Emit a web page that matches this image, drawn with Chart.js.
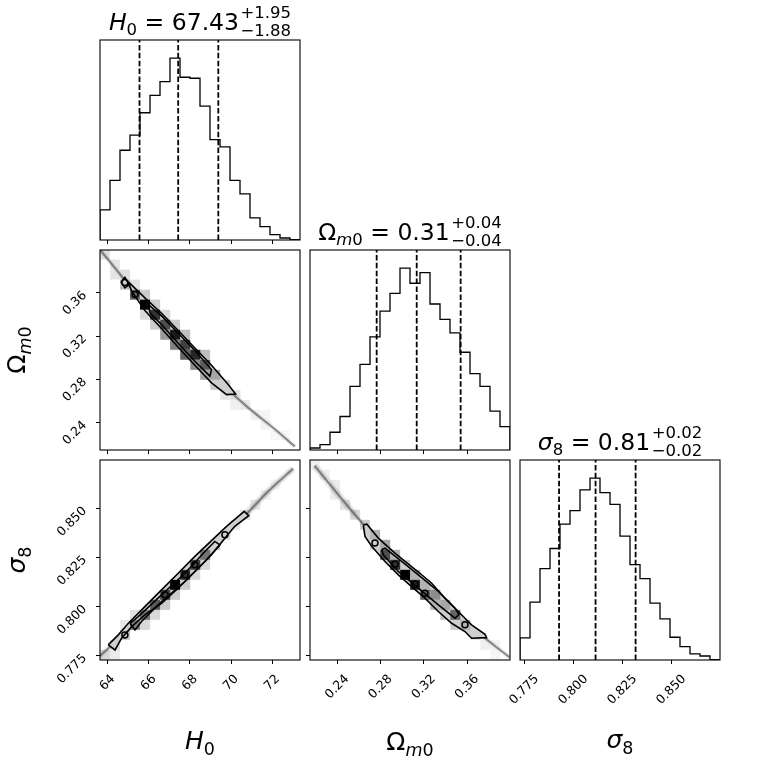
<!DOCTYPE html>
<html><head><meta charset="utf-8">
<script src="https://cdn.jsdelivr.net/npm/chart.js@4.4.1/dist/chart.umd.min.js"></script>
<style>
html,body{margin:0;padding:0;background:#fff;}
#wrap{position:relative;width:760px;height:760px;overflow:hidden;background:#fff;}
#wrap canvas{position:absolute;left:0;top:0;}
</style></head><body><div id="wrap"></div>
<script>
// ---------------- data ----------------
const H0_RANGE = [63.63, 73.35];
const OM_RANGE = [0.2148, 0.3996];
const S8_RANGE = [0.7728, 0.8747];

const H0_EDGES = [63.630,64.116,64.602,65.088,65.574,66.060,66.546,67.032,67.518,68.004,68.490,68.976,69.462,69.948,70.434,70.920,71.406,71.892,72.378,72.864,73.350];
const H0_COUNTS = [90,178,268,313,380,432,473,543,486,483,400,300,278,178,138,66,40,16,6,1];
const OM_EDGES = [0.21480,0.22404,0.23328,0.24252,0.25176,0.26100,0.27024,0.27948,0.28872,0.29796,0.30720,0.31644,0.32568,0.33492,0.34416,0.35340,0.36264,0.37188,0.38112,0.39036,0.39960];
const OM_COUNTS = [6,16,53,100,190,256,338,415,468,543,498,530,436,390,350,292,228,190,116,70];
const S8_EDGES = [0.77280,0.77790,0.78299,0.78809,0.79318,0.79828,0.80337,0.80847,0.81356,0.81866,0.82375,0.82885,0.83394,0.83904,0.84413,0.84923,0.85432,0.85942,0.86451,0.86961,0.87470];
const S8_COUNTS = [66,173,273,333,406,446,508,543,500,465,370,285,243,170,123,68,40,18,12,1];

const H0_Q = [65.55, 67.43, 69.38];
const OM_Q = [0.2764, 0.3134, 0.3540];
const S8_Q = [0.7927, 0.8113, 0.8317];

const H0_TITLE = ['67.43', '+1.95', '\u22121.88'];
const OM_TITLE = ['0.31', '+0.04', '\u22120.04'];
const S8_TITLE = ['0.81', '+0.02', '\u22120.02'];

const H0_TICKS = [64, 66, 68, 70, 72];
const H0_LABELS = ['64', '66', '68', '70', '72'];
const OM_TICKS = [0.24, 0.28, 0.32, 0.36];
const OM_LABELS = ['0.24', '0.28', '0.32', '0.36'];
const S8_TICKS = [0.775, 0.800, 0.825, 0.850];
const S8_LABELS = ['0.775', '0.800', '0.825', '0.850'];

// panel A: H0 (x) vs Omega_m0 (y)
const CELLS_A = [[63.87,0.3954,0.12],[64.36,0.3861,0.10],[64.36,0.3769,0.10],[64.85,0.3769,0.12],[64.85,0.3676,0.25],[65.33,0.3676,0.12],[65.33,0.3583,0.60],[65.82,0.3583,0.20],[65.82,0.3491,1.0],[65.82,0.3398,0.15],[66.31,0.3491,0.20],[66.31,0.3398,0.80],[66.31,0.3306,0.20],[66.80,0.3398,0.15],[66.80,0.3306,0.70],[66.80,0.3213,0.40],[67.28,0.3306,0.20],[67.28,0.3213,0.90],[67.28,0.3120,0.50],[67.77,0.3213,0.25],[67.77,0.3120,0.75],[67.77,0.3028,0.60],[68.26,0.3028,0.85],[68.26,0.2935,0.45],[68.74,0.3028,0.25],[68.74,0.2935,0.65],[68.74,0.2843,0.35],[69.23,0.2843,0.35],[69.23,0.2750,0.20],[69.72,0.2750,0.18],[69.72,0.2657,0.10],[70.21,0.2657,0.12],[70.21,0.2565,0.06],[70.69,0.2565,0.08],[71.18,0.2472,0.06],[71.67,0.2472,0.04],[71.67,0.2380,0.05],[72.15,0.2287,0.03],[72.64,0.2287,0.03]];
const BAND_A = [[63.62,0.4000],[64.36,0.383],[65.81,0.349],[67.03,0.326],[68.24,0.300],[69.54,0.276],[70.83,0.254],[72.13,0.234],[73.10,0.218]];
const OUTER_A = [[65.01,0.3701],[65.81,0.3553],[66.62,0.3412],[67.43,0.3252],[68.24,0.3091],[69.05,0.2931],[69.86,0.2753],[70.22,0.2666],[69.78,0.2660],[69.05,0.2768],[68.24,0.2931],[67.43,0.3098],[66.62,0.3270],[65.81,0.3436],[65.17,0.3615]];
const DIAMOND_A = [[64.65,0.3701],[64.84,0.3744],[65.04,0.3677],[64.84,0.3646]];
const INNER_A = [[65.98,0.3492],[66.62,0.3387],[67.43,0.3227],[68.24,0.3067],[69.05,0.2891],[68.97,0.2830],[68.24,0.2968],[67.43,0.3134],[66.62,0.3307],[66.06,0.3415]];
const LOOPS_A = [[65.33,0.3584],[64.84,0.3695]];

// panel B: H0 (x) vs sigma_8 (y)
const CELLS_B = [[63.87,0.7754,0.15],[64.36,0.7754,0.08],[64.36,0.7805,0.12],[64.85,0.7856,0.20],[64.85,0.7907,0.10],[65.33,0.7907,0.50],[65.33,0.7958,0.12],[65.82,0.7958,0.55],[65.82,0.7907,0.15],[66.31,0.8009,0.65],[66.31,0.7958,0.15],[66.80,0.8060,0.75],[66.80,0.8009,0.20],[67.28,0.8111,1.0],[67.28,0.8060,0.20],[67.77,0.8162,0.80],[67.77,0.8111,0.20],[68.26,0.8213,0.75],[68.26,0.8162,0.15],[68.74,0.8264,0.55],[68.74,0.8213,0.15],[69.23,0.8315,0.25],[69.72,0.8366,0.15],[70.21,0.8417,0.10],[70.69,0.8468,0.12],[71.18,0.8519,0.10],[71.67,0.8570,0.06],[72.15,0.8621,0.04]];
const BAND_B = [[63.62,0.7748],[65.01,0.7881],[67.27,0.8114],[69.54,0.8349],[70.75,0.8472],[71.80,0.8587],[73.02,0.8703]];
const CLOUD_B = [[70.60,0.8460],[71.80,0.8587],[73.02,0.8703]];
const OUTER_B = [[64.03,0.7805],[64.52,0.7856],[65.01,0.7915],[65.81,0.8000],[66.62,0.8085],[67.43,0.8170],[68.24,0.8256],[69.05,0.8336],[69.78,0.8409],[70.64,0.8485],[70.86,0.8463],[70.18,0.8409],[69.78,0.8358],[69.05,0.8264],[68.24,0.8179],[67.43,0.8094],[66.62,0.8017],[65.81,0.7958],[65.17,0.7898],[64.68,0.7839],[64.36,0.7779]];
const INNER_B = [[65.09,0.7915],[65.49,0.7949],[66.62,0.8060],[67.76,0.8170],[68.73,0.8281],[69.21,0.8332],[69.46,0.8315],[68.73,0.8230],[67.76,0.8128],[66.62,0.8026],[65.65,0.7924],[65.33,0.7881]];
const LOOPS_B = [[64.84,0.7856],[69.70,0.8366],[66.79,0.8060],[67.76,0.8162],[68.24,0.8213]];

// panel C: Omega_m0 (x) vs sigma_8 (y)
const CELLS_C = [[0.2194,0.8723,0.05],[0.2287,0.8672,0.06],[0.2380,0.8621,0.08],[0.2380,0.8570,0.08],[0.2472,0.8519,0.12],[0.2565,0.8468,0.15],[0.2657,0.8417,0.20],[0.2750,0.8366,0.30],[0.2750,0.8315,0.20],[0.2843,0.8315,0.35],[0.2843,0.8264,0.70],[0.2935,0.8264,0.30],[0.2935,0.8213,0.80],[0.3028,0.8213,0.20],[0.3028,0.8162,1.0],[0.3120,0.8162,0.30],[0.3120,0.8111,0.85],[0.3213,0.8111,0.30],[0.3213,0.8060,0.60],[0.3306,0.8060,0.45],[0.3306,0.8009,0.30],[0.3398,0.8009,0.35],[0.3398,0.7958,0.25],[0.3491,0.7958,0.60],[0.3491,0.7907,0.20],[0.3583,0.7907,0.30],[0.3676,0.7856,0.12],[0.3769,0.7805,0.06],[0.3861,0.7805,0.05],[0.3861,0.7754,0.04]];
const BAND_C = [[0.2190,0.8718],[0.2564,0.8468],[0.3026,0.8179],[0.3488,0.7961],[0.3765,0.7839],[0.3990,0.7742]];
const CLOUD_C = [[0.2190,0.8718],[0.2564,0.8468]];
const OUTER_C = [[0.2641,0.8414],[0.2672,0.8421],[0.2779,0.8349],[0.2933,0.8273],[0.3026,0.8230],[0.3164,0.8170],[0.3272,0.8119],[0.3395,0.8043],[0.3518,0.7975],[0.3641,0.7907],[0.3765,0.7859],[0.3780,0.7842],[0.3641,0.7839],[0.3580,0.7873],[0.3457,0.7915],[0.3334,0.7975],[0.3210,0.8043],[0.3087,0.8102],[0.2964,0.8162],[0.2841,0.8230],[0.2718,0.8307],[0.2656,0.8358]];
const INNER_C = [[0.2810,0.8290],[0.2841,0.8298],[0.2995,0.8230],[0.3149,0.8162],[0.3334,0.8077],[0.3488,0.7992],[0.3524,0.7961],[0.3488,0.7941],[0.3334,0.8009],[0.3149,0.8094],[0.2964,0.8179],[0.2825,0.8264]];
const LOOPS_C = [[0.2748,0.8324],[0.2933,0.8216],[0.3118,0.8114],[0.3210,0.8068],[0.3580,0.7907]];

// ---------------- helpers ----------------
const F = "'DejaVu Sans', sans-serif";
const TICK_FS = 12.5;
const TM = `23.5px ${F}`, TI = `italic 23.5px ${F}`, TS = `16.5px ${F}`, TSI = `italic 16.5px ${F}`;
const LM = `25px ${F}`, LI = `italic 25px ${F}`, LS = `17.5px ${F}`, LSI = `italic 17.5px ${F}`;

function shade(s) { const g = Math.round(255 * (1 - s)); return `rgb(${g},${g},${g})`; }
const pts = arr => arr.map(p => ({x: p[0], y: p[1]}));
const closed = arr => pts(arr.concat([arr[0]]));

function drawRich(ctx, parts, cx, by, rot) {
  ctx.save();
  ctx.translate(cx, by);
  if (rot) ctx.rotate(rot);
  let total = 0;
  for (const p of parts) {
    ctx.font = p.font;
    p._w = p.stack ? Math.max(ctx.measureText(p.stack[0]).width, ctx.measureText(p.stack[1]).width)
                   : ctx.measureText(p.t).width;
    total += p._w + (p.gap || 0);
  }
  let x = -total / 2;
  ctx.fillStyle = '#000'; ctx.textAlign = 'left'; ctx.textBaseline = 'alphabetic';
  for (const p of parts) {
    x += (p.gap || 0);
    ctx.font = p.font;
    if (p.stack) { ctx.fillText(p.stack[0], x, p.dy[0]); ctx.fillText(p.stack[1], x, p.dy[1]); }
    else ctx.fillText(p.t, x, p.dy || 0);
    x += p._w;
  }
  ctx.restore();
}

function rotLabel(ctx, txt, cxFn) {
  ctx.font = `${TICK_FS}px ${F}`;
  const w = ctx.measureText(txt).width;
  const ext = (w + 0.73 * TICK_FS) * Math.SQRT1_2;
  const [cx, cy] = cxFn(ext);
  ctx.save();
  ctx.translate(cx, cy); ctx.rotate(-Math.PI / 4);
  ctx.fillStyle = '#000'; ctx.textAlign = 'center'; ctx.textBaseline = 'alphabetic';
  ctx.fillText(txt, 0, 0.365 * TICK_FS);
  ctx.restore();
}

function makeChart(cfg) {
  const cv = document.createElement('canvas');
  cv.width = 760; cv.height = 760;
  document.getElementById('wrap').appendChild(cv);
  const [L, T, R, B] = cfg.frame;
  const fixX = s => { s.height = 5; s.paddingLeft = 0; s.paddingRight = 0; };
  const fixY = s => { s.width = 5; s.paddingTop = 0; s.paddingBottom = 0; };
  const grid = vals => vals ? {display: true, drawOnChartArea: false, drawTicks: true, tickLength: 4, color: '#000', lineWidth: 1} : {display: false};
  const setTicks = vals => s => { if (vals) s.ticks = vals.map(v => ({value: v})); };
  return new Chart(cv, {
    type: 'scatter',
    data: {datasets: cfg.datasets},
    options: {
      responsive: false, animation: false, events: [],
      layout: {padding: {left: L - 5, top: T, right: 760 - R, bottom: 760 - B - 5}},
      plugins: {legend: {display: false}, tooltip: {enabled: false}, title: {display: false}},
      scales: {
        x: {type: 'linear', min: cfg.xr[0], max: cfg.xr[1], grid: grid(cfg.xt), border: {display: false},
            ticks: {display: false, autoSkip: false}, afterBuildTicks: setTicks(cfg.xt), afterFit: fixX},
        y: {type: 'linear', min: cfg.yr[0], max: cfg.yr[1], grid: grid(cfg.yt), border: {display: false},
            ticks: {display: false, autoSkip: false}, afterBuildTicks: setTicks(cfg.yt), afterFit: fixY}
      }
    },
    plugins: [{
      id: 'deco',
      afterDraw(chart) {
        const ctx = chart.ctx, a = chart.chartArea;
        ctx.save(); ctx.strokeStyle = '#000'; ctx.lineWidth = 1.1;
        ctx.strokeRect(a.left, a.top, a.right - a.left, a.bottom - a.top); ctx.restore();
        if (cfg.xl) {
          const sx = chart.scales.x;
          cfg.xt.forEach((v, i) => rotLabel(ctx, cfg.xl[i], ext => [sx.getPixelForValue(v) - 1, a.bottom + 13 + ext / 2]));
        }
        if (cfg.yl) {
          const sy = chart.scales.y;
          cfg.yt.forEach((v, i) => rotLabel(ctx, cfg.yl[i], ext => [a.left - 13 - ext / 2, sy.getPixelForValue(v) + ext / 2 - 3.5]));
        }
        (cfg.texts || []).forEach(t => drawRich(ctx, t.parts, t.x, t.y, t.rot || 0));
      }
    }]
  });
}

function histSets(edges, counts, q, ymax) {
  const data = [{x: edges[0], y: 0}];
  counts.forEach((c, i) => data.push({x: edges[i], y: c}));
  data.push({x: edges[edges.length - 1], y: 0});
  const sets = [{data, showLine: true, stepped: true, borderColor: '#000', borderWidth: 1.3, pointRadius: 0, fill: false, order: 2}];
  q.forEach(v => sets.push({data: [{x: v, y: 0}, {x: v, y: ymax}], showLine: true, borderColor: '#000', borderWidth: 1.8,
                           borderDash: [5.5, 2.4], pointRadius: 0, fill: false, order: 1}));
  return sets;
}

function panelSets(P) {
  const cellPts = P.cells.map(c => ({x: c[0], y: c[1], s: c[2]}));
  const cellSet = (list, order) => ({data: list, pointStyle: 'rect', pointRadius: 7.07, pointBorderWidth: 0,
    pointBackgroundColor: c => c.raw ? shade(c.raw.s) : '#fff', showLine: false, order});
  const sets = [
    cellSet(cellPts.filter(c => c.s < 0.3), 10),
    {data: pts(P.band), showLine: true, borderColor: 'rgba(0,0,0,0.05)', borderWidth: 5, pointRadius: 0, tension: 0.3, fill: false, order: 9},
    {data: pts(P.band), showLine: true, borderColor: 'rgba(70,70,70,0.6)', borderWidth: 2.2, pointRadius: 0, tension: 0.3, fill: false, order: 8}
  ];
  if (P.cloud) sets.push({data: pts(P.cloud), showLine: true, borderColor: 'rgba(90,90,90,0.12)', borderWidth: 7, pointRadius: 0, tension: 0.3, fill: false, order: 8.5});
  P.outer.forEach(poly => sets.push({data: closed(poly), showLine: true, fill: 'shape', backgroundColor: '#cfcfcf',
    borderColor: 'rgba(0,0,0,0)', borderWidth: 1, pointRadius: 0, tension: 0, order: 7}));
  sets.push(cellSet(cellPts.filter(c => c.s >= 0.3), 6));
  P.outer.concat(P.inner).forEach(poly => sets.push({data: closed(poly), showLine: true, fill: false,
    borderColor: '#000', borderWidth: 1.6, pointRadius: 0, tension: 0, order: 2}));
  sets.push({data: pts(P.loops), showLine: false, pointStyle: 'circle', pointRadius: 3, pointBackgroundColor: 'rgba(0,0,0,0)',
    pointBorderColor: '#000', pointBorderWidth: 1.5, order: 1});
  return sets;
}

const ymaxOf = c => 1.1 * Math.max(...c);

// ---------------- charts ----------------
makeChart({
  frame: [100, 40, 300, 240], xr: H0_RANGE, yr: [0, ymaxOf(H0_COUNTS)], xt: H0_TICKS,
  datasets: histSets(H0_EDGES, H0_COUNTS, H0_Q, ymaxOf(H0_COUNTS)),
  texts: [{x: 200, y: 30, parts: [{t: 'H', font: TI}, {t: '0', font: TS, dy: 5}, {t: ' = ' + H0_TITLE[0], font: TM},
          {stack: [H0_TITLE[1], H0_TITLE[2]], font: TS, dy: [-12, 6], gap: 1.5}]}]
});
makeChart({
  frame: [100, 250, 300, 450], xr: H0_RANGE, yr: OM_RANGE, xt: H0_TICKS, yt: OM_TICKS, yl: OM_LABELS,
  datasets: panelSets({cells: CELLS_A, band: BAND_A, outer: [OUTER_A, DIAMOND_A], inner: [INNER_A], loops: LOOPS_A}),
  texts: [{x: 25, y: 350, rot: -Math.PI / 2, parts: [{t: '\u03A9', font: LM}, {t: 'm', font: LSI, dy: 5.5}, {t: '0', font: LS, dy: 5.5}]}]
});
makeChart({
  frame: [310, 250, 510, 450], xr: OM_RANGE, yr: [0, ymaxOf(OM_COUNTS)], xt: OM_TICKS,
  datasets: histSets(OM_EDGES, OM_COUNTS, OM_Q, ymaxOf(OM_COUNTS)),
  texts: [{x: 410, y: 240, parts: [{t: '\u03A9', font: TM}, {t: 'm', font: TSI, dy: 5}, {t: '0', font: TS, dy: 5},
          {t: ' = ' + OM_TITLE[0], font: TM}, {stack: [OM_TITLE[1], OM_TITLE[2]], font: TS, dy: [-12, 6], gap: 1.5}]}]
});
makeChart({
  frame: [100, 460, 300, 660], xr: H0_RANGE, yr: S8_RANGE, xt: H0_TICKS, xl: H0_LABELS, yt: S8_TICKS, yl: S8_LABELS,
  datasets: panelSets({cells: CELLS_B, band: BAND_B, cloud: CLOUD_B, outer: [OUTER_B], inner: [INNER_B], loops: LOOPS_B}),
  texts: [
    {x: 25, y: 560, rot: -Math.PI / 2, parts: [{t: '\u03C3', font: LI}, {t: '8', font: LS, dy: 5.5}]},
    {x: 200, y: 749, parts: [{t: 'H', font: LI}, {t: '0', font: LS, dy: 5.5}]}
  ]
});
makeChart({
  frame: [310, 460, 510, 660], xr: OM_RANGE, yr: S8_RANGE, xt: OM_TICKS, xl: OM_LABELS, yt: S8_TICKS,
  datasets: panelSets({cells: CELLS_C, band: BAND_C, cloud: CLOUD_C, outer: [OUTER_C], inner: [INNER_C], loops: LOOPS_C}),
  texts: [{x: 410, y: 750, parts: [{t: '\u03A9', font: LM}, {t: 'm', font: LSI, dy: 5.5}, {t: '0', font: LS, dy: 5.5}]}]
});
makeChart({
  frame: [520, 460, 720, 660], xr: S8_RANGE, yr: [0, ymaxOf(S8_COUNTS)], xt: S8_TICKS, xl: S8_LABELS,
  datasets: histSets(S8_EDGES, S8_COUNTS, S8_Q, ymaxOf(S8_COUNTS)),
  texts: [
    {x: 620, y: 450, parts: [{t: '\u03C3', font: TI}, {t: '8', font: TS, dy: 5}, {t: ' = ' + S8_TITLE[0], font: TM},
            {stack: [S8_TITLE[1], S8_TITLE[2]], font: TS, dy: [-12, 6], gap: 1.5}]},
    {x: 620, y: 748, parts: [{t: '\u03C3', font: LI}, {t: '8', font: LS, dy: 5.5}]}
  ]
});
</script></body></html>
